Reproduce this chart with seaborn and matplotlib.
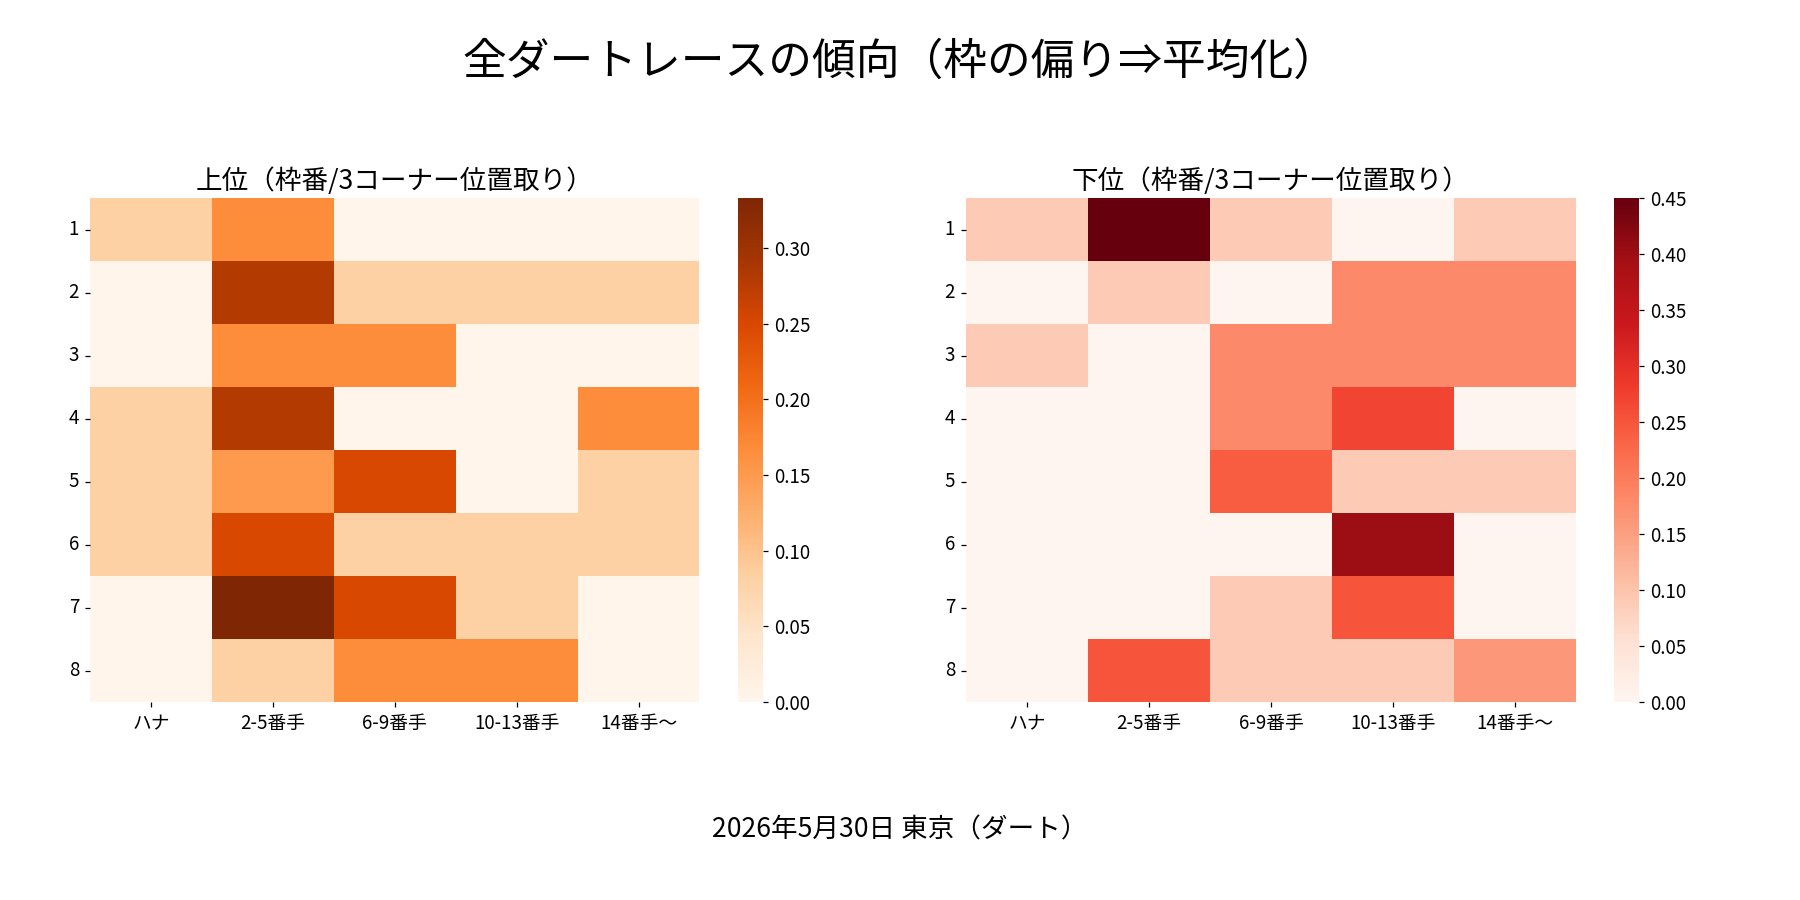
import matplotlib
matplotlib.use("Agg")
import matplotlib.pyplot as plt
import seaborn as sns
import pandas as pd

plt.rcParams['font.family'] = ['Noto Sans CJK JP', 'DejaVu Sans']

positions = ["ハナ", "2-5番手", "6-9番手", "10-13番手", "14番手〜"]
gates = ["1", "2", "3", "4", "5", "6", "7", "8"]

upper = [
    [0.083, 0.167, 0.0, 0.0, 0.0],
    [0.0, 0.28, 0.083, 0.083, 0.083],
    [0.0, 0.167, 0.167, 0.0, 0.0],
    [0.083, 0.28, 0.0, 0.0, 0.167],
    [0.083, 0.15, 0.25, 0.0, 0.083],
    [0.083, 0.25, 0.083, 0.083, 0.083],
    [0.0, 0.333, 0.25, 0.083, 0.0],
    [0.0, 0.083, 0.167, 0.167, 0.0],
]
lower = [
    [0.09, 0.45, 0.09, 0.0, 0.09],
    [0.0, 0.09, 0.0, 0.18, 0.18],
    [0.09, 0.0, 0.18, 0.18, 0.18],
    [0.0, 0.0, 0.18, 0.27, 0.0],
    [0.0, 0.0, 0.24, 0.09, 0.09],
    [0.0, 0.0, 0.0, 0.40, 0.0],
    [0.0, 0.0, 0.09, 0.25, 0.0],
    [0.0, 0.25, 0.09, 0.09, 0.16],
]

fig, axes = plt.subplots(1, 2, figsize=(16, 8), dpi=112.5)
fig.subplots_adjust(left=0.05, right=0.96, top=0.78, bottom=0.22, wspace=0.15)

for ax, data, cmap, title in [
    (axes[0], upper, "Oranges", "上位（枠番/3コーナー位置取り）"),
    (axes[1], lower, "Reds", "下位（枠番/3コーナー位置取り）"),
]:
    df = pd.DataFrame(data, index=gates, columns=positions)
    sns.heatmap(df, ax=ax, cmap=cmap, vmin=0)
    ax.set_title(title, fontsize=17)
    ax.tick_params(axis='y', rotation=0, labelsize=12)
    ax.tick_params(axis='x', labelsize=12)
    ax.collections[0].colorbar.ax.tick_params(labelsize=12)

fig.suptitle("全ダートレースの傾向（枠の偏り⇒平均化）", fontsize=28, y=0.955)
fig.text(0.5, 0.07, "2026年5月30日 東京（ダート）", ha='center', fontsize=17)
fig.savefig("out.png")
